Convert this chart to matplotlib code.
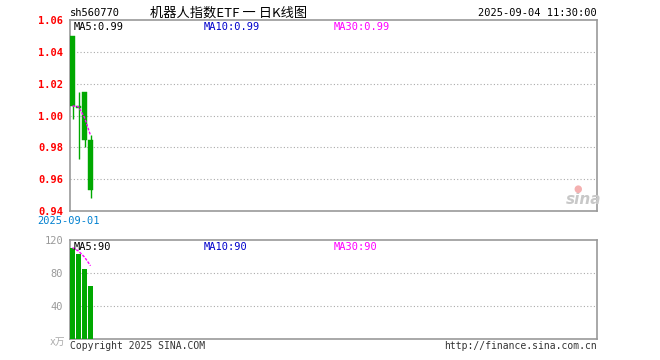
import matplotlib
matplotlib.use("Agg")
import matplotlib.pyplot as plt

plt.rcParams['font.family'] = ['DejaVu Sans Mono', 'Noto Sans CJK SC']

# daily candles (price)
days = [0, 1, 2, 3]
opens = [1.050, 1.006, 1.015, 0.9846]
closes = [1.006, 1.005, 0.9846, 0.9533]
highs = [1.050, 1.015, 1.015, 0.988]
lows = [0.998, 0.9725, 0.980, 0.948]
ma_price = [1.006, 1.0055, 0.9987, 0.9875]

# volume (x10k)
volumes = [110.7, 102.6, 84.5, 64.6]
ma_vol = [110.7, 106.6, 99.3, 88.8]

price_ticks = [0.94, 0.96, 0.98, 1.00, 1.02, 1.04, 1.06]
vol_ticks = [40, 80, 120]

green = '#00A800'
frame = '#999999'
W, H = 660, 360

fig = plt.figure(figsize=(6.6, 3.6), dpi=100)

def fx(px):
    return px / W

def fy(py):
    return 1 - py / H

ax = fig.add_axes([fx(70), fy(211), fx(597) - fx(70), fy(20) - fy(211)])
axv = fig.add_axes([fx(70), fy(339), fx(597) - fx(70), fy(240) - fy(339)])

xlim = (-0.42, -0.42 + 527 / 6)

# price panel
for i in days:
    ax.vlines(i, lows[i], highs[i], color=green, linewidth=1.0, zorder=3)
    h = opens[i] - closes[i]
    ax.bar(i, max(h, 0.0004), bottom=closes[i], width=0.85, color=green,
           edgecolor=green, linewidth=0.3, zorder=4)
ax.plot(days, ma_price, color='#FF00FF', linewidth=1.0, linestyle=(0, (2, 1)), zorder=5)

ax.set_xlim(*xlim)
ax.set_ylim(0.94, 1.06)
ax.set_yticks(price_ticks)
ax.set_yticklabels(['%.2f' % t for t in price_ticks], color='#FF0000', fontsize=7.5,
                   fontweight='bold')
ax.set_xticks([])
for t in price_ticks[1:-1]:
    ax.axhline(t, color='#AAAAAA', linewidth=0.8, linestyle=(0, (1, 2)), zorder=1)
for s in ax.spines.values():
    s.set_color(frame)
    s.set_linewidth(1.2)
ax.tick_params(axis='y', length=0, pad=5)

# volume panel
axv.bar(days, volumes, width=0.85, color=green, zorder=3)
axv.plot(days, ma_vol, color='#FF00FF', linewidth=1.0, linestyle=(0, (2, 1)), zorder=5)
axv.set_xlim(*xlim)
axv.set_ylim(0, 120)
axv.set_yticks(vol_ticks)
axv.set_yticklabels([str(t) for t in vol_ticks], color='#999999', fontsize=7.5)
axv.set_xticks([])
for t in vol_ticks[:-1]:
    axv.axhline(t, color='#AAAAAA', linewidth=0.8, linestyle=(0, (1, 2)), zorder=1)
for s in axv.spines.values():
    s.set_color(frame)
    s.set_linewidth(1.2)
axv.tick_params(axis='y', length=0, pad=5)

# texts
fig.text(fx(70), fy(13), 'sh560770', fontsize=7.5, va='center', ha='left')
fig.text(fx(150), fy(13), '机器人指数ETF 一 日K线图', fontsize=9.5, va='center', ha='left',
         family=['Noto Sans CJK SC', 'DejaVu Sans'])
fig.text(fx(597), fy(13), '2025-09-04 11:30:00', fontsize=7.5, va='center', ha='right')

fig.text(fx(74), fy(27), 'MA5:0.99', fontsize=7.5, va='center', color='black')
fig.text(fx(204), fy(27), 'MA10:0.99', fontsize=7.5, va='center', color='#0000CC')
fig.text(fx(334), fy(27), 'MA30:0.99', fontsize=7.5, va='center', color='#FF00FF')

fig.text(fx(69), fy(221), '2025-09-01', fontsize=7.5, va='center', ha='center',
         color='#0080D0')

fig.text(fx(74), fy(247), 'MA5:90', fontsize=7.5, va='center', color='black')
fig.text(fx(204), fy(247), 'MA10:90', fontsize=7.5, va='center', color='#0000CC')
fig.text(fx(334), fy(247), 'MA30:90', fontsize=7.5, va='center', color='#FF00FF')

fig.text(fx(65), fy(342), 'x万', fontsize=7, va='center', ha='right', color='#AAAAAA',
         family=['DejaVu Sans Mono', 'Noto Sans CJK SC'])
fig.text(fx(70), fy(346), 'Copyright 2025 SINA.COM', fontsize=7, va='center', ha='left',
         color='#333333')
fig.text(fx(597), fy(346), 'http://finance.sina.com.cn', fontsize=7, va='center',
         ha='right', color='#333333')

# watermark
fig.text(fx(584), fy(200), 'sina', fontsize=11, style='italic', fontweight='bold',
         color='#C8C8C8', ha='center', va='center', family='DejaVu Sans')
fig.text(fx(578), fy(189), '●', fontsize=7, color='#F4B0B0', ha='center', va='center',
         family='DejaVu Sans')

fig.savefig('out.png', dpi=100)
